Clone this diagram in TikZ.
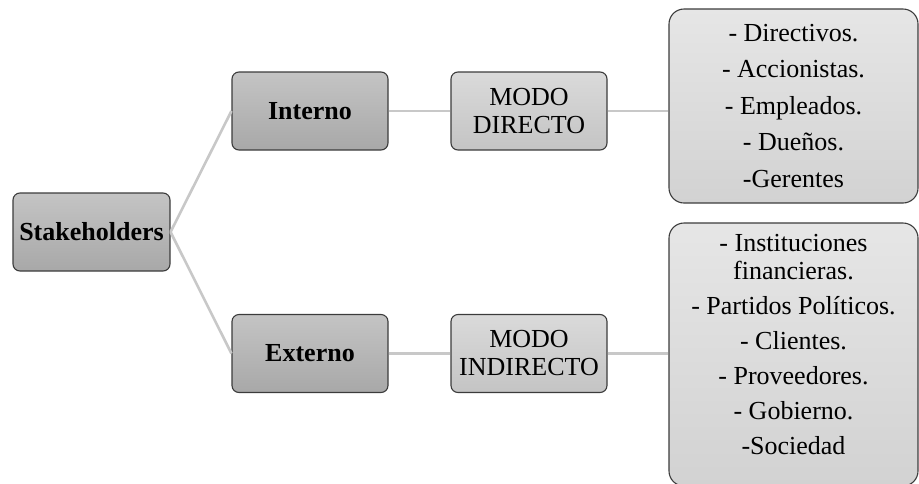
\documentclass[tikz,border=0pt]{standalone}
\usepackage{fontspec}
\setmainfont{Liberation Serif}
\definecolor{boxedge}{HTML}{3C3C3C}
\definecolor{darkTop}{HTML}{C4C4C4}
\definecolor{darkBot}{HTML}{A8A8A8}
\definecolor{midTop}{HTML}{DADADA}
\definecolor{midBot}{HTML}{C4C4C4}
\definecolor{listTop}{HTML}{E6E6E6}
\definecolor{listBot}{HTML}{D2D2D2}
\definecolor{linkgray}{HTML}{C8C8C8}
\begin{document}
\begin{tikzpicture}[x=1pt,y=-1pt,
  box/.style={draw=boxedge, line width=1.1pt, rounded corners=7pt, inner sep=0pt,
    align=center, font=\fontsize{26}{28}\selectfont},
  dark/.style={box, top color=darkTop, bottom color=darkBot,
    font=\fontsize{26}{28}\selectfont\bfseries, minimum width=157pt, minimum height=78pt},
  mid/.style={box, top color=midTop, bottom color=midBot,
    minimum width=156pt, minimum height=78pt},
  listbox/.style={box, rounded corners=15pt, top color=listTop, bottom color=listBot,
    minimum width=249pt},
  listtext/.style={align=center, inner sep=0pt, font=\fontsize{26}{28}\selectfont},
  link/.style={draw=linkgray, line width=2.6pt}]
\useasboundingbox (0,0) rectangle (919,483);
\clip (0,0) rectangle (919,483);

% root and branches
\node[dark] (stk) at (91.5,232) {Stakeholders};
\node[dark, minimum width=156pt] (int) at (310,111) {Interno};
\node[dark, minimum width=156pt] (ext) at (310,353.5) {Externo};

% modes
\node[mid] (md) at (529,111) {MODO\\DIRECTO};
\node[mid] (mi) at (529,353.5) {MODO\\INDIRECTO};

% stakeholder lists
\node[listbox, minimum height=194pt] (lin) at (793.5,106) {};
\node[listtext, anchor=north] (lintxt) at (793.5,24)
  {- Directivos.\\[8.5pt] - Accionistas.\\[8.5pt] - Empleados.\\[8.5pt]
   - Dueños.\\[8.5pt] -Gerentes};
\node[listbox, minimum height=263pt] (lex) at (793.5,354.5) {};
\node[listtext, anchor=north] (lextxt) at (793.5,234)
  {- Instituciones\\ financieras.\\[7pt] - Partidos Políticos.\\[7pt] - Clientes.\\[7pt]
   - Proveedores.\\[7pt] - Gobierno.\\[7pt] -Sociedad};

% connectors
\draw[link] (stk.east) -- (int.west);
\draw[link] (stk.east) -- (ext.west);
\draw[link] (int.east) -- (md.west);
\draw[link] (ext.east) -- (mi.west);
\draw[link] (md.east) -- (md.east -| lin.west);
\draw[link] (mi.east) -- (mi.east -| lex.west);
\end{tikzpicture}
\end{document}
